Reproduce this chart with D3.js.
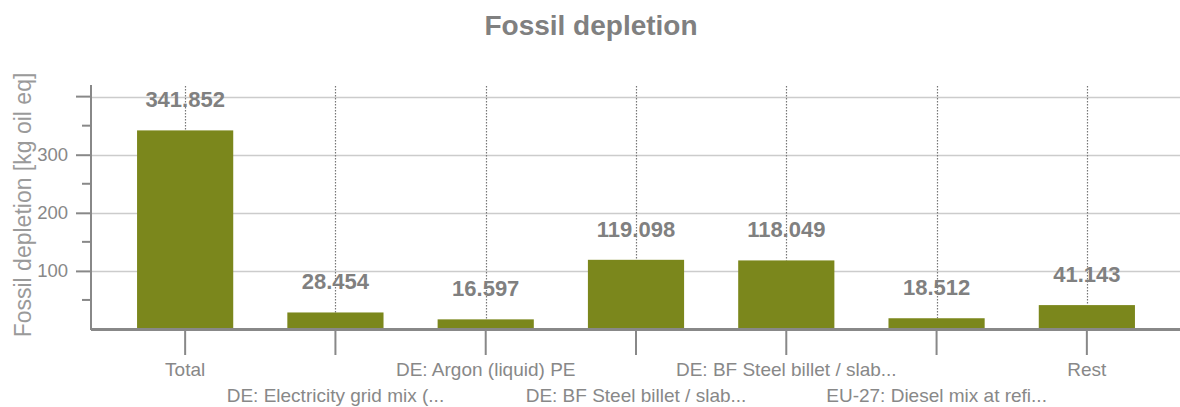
<!DOCTYPE html>
<html>
<head>
<meta charset="utf-8">
<script src="https://cdn.jsdelivr.net/npm/d3@7"></script>
<style>
	body { margin: 0; background: #fff; }
	text { font-family: "Liberation Sans", Arial, sans-serif; }
</style>
</head>
<body>
<svg id="chart" width="1180" height="407"></svg>
<script>
var categories = [
	"Total",
	"DE: Electricity grid mix (...",
	"DE: Argon (liquid) PE",
	"DE: BF Steel billet / slab...",
	"DE: BF Steel billet / slab...",
	"EU-27: Diesel mix at refi...",
	"Rest"
];
var values = [341.852, 28.454, 16.597, 119.098, 118.049, 18.512, 41.143];
var yTicks = [100, 200, 300, 400];
var yMinorTicks = [50, 150, 250, 350];

var svg = d3.select("#chart"),
	plotLeft = 91, plotRight = 1180,
	plotTop = 85, plotBottom = 329,
	grey = "#888",
	barColor = "#7b871c";

var x = d3.scalePoint()
	.domain(d3.range(categories.length))
	.range([110, 1162])
	.padding(0.5);
var barWidth = x.step() * 0.64;

var y = d3.scaleLinear()
	.domain([0, 420])
	.range([plotBottom, plotTop]);

// title
svg.append("text")
	.attr("x", 591)
	.attr("y", 35)
	.attr("text-anchor", "middle")
	.style("font-size", "28px")
	.style("font-weight", "bold")
	.style("fill", "#808080")
	.text("Fossil depletion");

// y label
svg.append("text")
	.attr("transform", "translate(31,205) rotate(-90)")
	.attr("text-anchor", "middle")
	.style("font-size", "23px")
	.style("fill", "#9a9a9a")
	.text("Fossil depletion [kg oil eq]");

// grid
svg.append("g")
	.selectAll("line")
	.data(yTicks)
	.enter().append("line")
	.attr("x1", plotLeft).attr("x2", plotRight)
	.attr("y1", function(d) { return Math.round(y(d)) + 0.5; })
	.attr("y2", function(d) { return Math.round(y(d)) + 0.5; })
	.style("stroke", "#ccc")
	.style("stroke-width", 1.5);

// y axis
var yAxis = svg.append("g")
	.attr("transform", "translate(" + plotLeft + ",0)")
	.call(d3.axisLeft(y).tickValues([100, 200, 300]).tickSize(15).tickPadding(8).tickFormat(d3.format("d")));
yAxis.select(".domain").remove();
yAxis.selectAll("line").style("stroke", grey).style("stroke-width", 2);
yAxis.selectAll("text").style("font-size", "18.5px").style("fill", grey).style("font-family", "Liberation Sans, Arial, sans-serif");

svg.append("g")
	.selectAll("line")
	.data(yMinorTicks.concat([400]))
	.enter().append("line")
	.attr("x1", function(d) { return d === 400 ? plotLeft - 15 : plotLeft - 9; })
	.attr("x2", plotLeft)
	.attr("y1", function(d) { return y(d); })
	.attr("y2", function(d) { return y(d); })
	.style("stroke", grey)
	.style("stroke-width", 2);

svg.append("line")
	.attr("x1", plotLeft).attr("x2", plotLeft)
	.attr("y1", plotTop).attr("y2", plotBottom + 1)
	.style("stroke", grey)
	.style("stroke-width", 2);

// dotted guides
svg.append("g")
	.selectAll("line")
	.data(values)
	.enter().append("line")
	.attr("x1", function(d, i) { return Math.round(x(i)) + 0.5; })
	.attr("x2", function(d, i) { return Math.round(x(i)) + 0.5; })
	.attr("y1", plotTop + 1)
	.attr("y2", function(d) { return y(d); })
	.style("stroke", "#777")
	.style("stroke-width", 1.2)
	.style("stroke-dasharray", "1.5,1.5");

// bars
svg.append("g")
	.selectAll("rect")
	.data(values)
	.enter().append("rect")
	.attr("x", function(d, i) { return x(i) - barWidth / 2; })
	.attr("width", barWidth)
	.attr("y", function(d) { return y(d); })
	.attr("height", function(d) { return y(0) - y(d); })
	.style("fill", barColor);

// value labels
svg.append("g")
	.selectAll("text")
	.data(values)
	.enter().append("text")
	.attr("x", function(d, i) { return x(i); })
	.attr("y", function(d) { return y(d) - 23; })
	.attr("text-anchor", "middle")
	.style("font-size", "22px")
	.style("font-weight", "bold")
	.style("fill", "#808080")
	.text(function(d) { return d3.format(".3f")(d); });

// x axis
svg.append("line")
	.attr("x1", plotLeft).attr("x2", plotRight)
	.attr("y1", plotBottom + 0.5).attr("y2", plotBottom + 0.5)
	.style("stroke", grey)
	.style("stroke-width", 3);

var xAxis = svg.append("g")
	.selectAll("g")
	.data(categories)
	.enter().append("g")
	.attr("transform", function(d, i) { return "translate(" + x(i) + ",0)"; });

xAxis.append("line")
	.attr("y1", plotBottom + 1).attr("y2", 355)
	.style("stroke", grey)
	.style("stroke-width", 2);

xAxis.append("text")
	.attr("y", function(d, i) { return i % 2 === 0 ? 376 : 402; })
	.attr("text-anchor", "middle")
	.style("font-size", "19px")
	.style("fill", grey)
	.text(function(d) { return d; });
</script>
</body>
</html>
